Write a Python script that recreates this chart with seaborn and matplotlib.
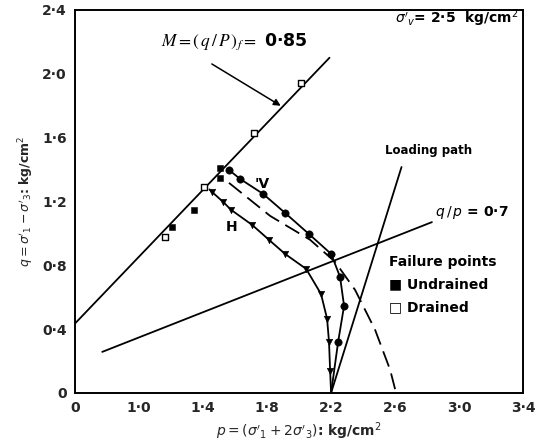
import matplotlib
matplotlib.use("Agg")
import matplotlib.pyplot as plt
import seaborn as sns

sns.set_theme(style="white")
plt.rcParams["font.family"] = ["DejaVu Sans"]
plt.rcParams["mathtext.fontset"] = "dejavusans"

# Stress paths in p-q space (kg/cm2)
v_path_p = [2.20, 2.244, 2.281, 2.256, 2.20, 2.062, 1.912, 1.775, 1.631, 1.562]
v_path_q = [0.00, 0.320, 0.545, 0.727, 0.871, 0.995, 1.128, 1.247, 1.341, 1.397]

h_path_p = [2.20, 2.194, 2.187, 2.175, 2.137, 2.044, 1.912, 1.812, 1.706, 1.575, 1.525, 1.456, 1.44]
h_path_q = [0.00, 0.138, 0.320, 0.464, 0.620, 0.777, 0.871, 0.959, 1.053, 1.147, 1.197, 1.259, 1.275]

# Yield locus (dashed)
locus_p = [1.562, 1.819, 2.069, 2.225, 2.350, 2.475, 2.569, 2.606]
locus_q = [1.316, 1.109, 0.959, 0.821, 0.645, 0.395, 0.144, 0.000]

# Failure points
undrained_p = [1.206, 1.344, 1.506, 1.506]
undrained_q = [1.040, 1.147, 1.410, 1.347]
drained_p = [1.162, 1.406, 1.719, 2.012]
drained_q = [0.977, 1.290, 1.629, 1.942]

# Reference lines
m_line_p = [0.60, 2.19]
m_line_q = [0.435, 2.10]
loading_p = [2.20, 2.64]
loading_q = [0.00, 1.415]
qp_line_p = [0.77, 2.83]
qp_line_q = [0.257, 1.07]

x_ticks = [0.6, 1.0, 1.4, 1.8, 2.2, 2.6, 3.0, 3.4]
x_tick_labels = ["0", "1·0", "1·4", "1·8", "2·2", "2·6", "3·0", "3·4"]
y_ticks = [0.0, 0.4, 0.8, 1.2, 1.6, 2.0, 2.4]
y_tick_labels = ["0", "0·4", "0·8", "1·2", "1·6", "2·0", "2·4"]

fig = plt.figure(figsize=(5.36, 4.48), dpi=100)
ax = fig.add_axes([0.140, 0.123, 0.836, 0.855])

lw = 1.3
for px, qy in [(m_line_p, m_line_q), (loading_p, loading_q), (qp_line_p, qp_line_q)]:
    sns.lineplot(x=px, y=qy, ax=ax, color="black", lw=lw, sort=False, estimator=None)

sns.lineplot(x=v_path_p, y=v_path_q, ax=ax, color="black", lw=lw, sort=False, estimator=None)
sns.lineplot(x=h_path_p, y=h_path_q, ax=ax, color="black", lw=lw, sort=False, estimator=None)
ax.plot(locus_p, locus_q, color="black", lw=lw, dashes=(9, 4))

sns.scatterplot(x=v_path_p[1:], y=v_path_q[1:], ax=ax, color="black", marker="o", s=28, edgecolor="black", zorder=4)
sns.scatterplot(x=h_path_p[1:-1], y=h_path_q[1:-1], ax=ax, color="black", marker="v", s=22, edgecolor="black", zorder=4)
sns.scatterplot(x=undrained_p, y=undrained_q, ax=ax, color="black", marker="s", s=22, edgecolor="black", zorder=4)
sns.scatterplot(x=drained_p, y=drained_q, ax=ax, color="white", marker="s", s=18, edgecolor="black", linewidth=1, zorder=4)

ax.set_xlim(0.6, 3.4)
ax.set_ylim(0.0, 2.4)
ax.set_xticks(x_ticks)
ax.set_xticklabels(x_tick_labels, fontweight="bold", fontsize=10)
ax.set_yticks(y_ticks)
ax.set_yticklabels(y_tick_labels, fontweight="bold", fontsize=10)
ax.tick_params(direction="in", length=4, width=1.2, color="black", pad=6)
for s in ax.spines.values():
    s.set_color("black")
    s.set_linewidth(1.4)

ax.set_xlabel(r"$p=(\sigma'_1+2\sigma'_3)$: kg/cm$^2$", fontweight="bold", fontsize=10, labelpad=4)
ax.set_ylabel(r"$q=\sigma'_1-\sigma'_3$: kg/cm$^2$", fontweight="bold", fontsize=9, labelpad=4)

tk = dict(fontweight="bold", fontsize=10, color="black")
ax.text(3.37, 2.345, r"$\sigma'_v$= 2·5  kg/cm$^2$", ha="right", va="center", **tk)
ax.text(1.14, 2.20, r"$M=(\,q\,/\,P\,)_f=$ 0·85", ha="left", va="center", fontsize=12.5,
        math_fontfamily="stix", color="black", fontweight="bold")
ax.annotate("", xy=(1.90, 1.79), xytext=(1.44, 2.07),
            arrowprops=dict(arrowstyle="-|>", color="black", lw=1.1, mutation_scale=10))
ax.text(2.81, 1.52, "Loading path", ha="center", va="center", fontweight="bold", fontsize=8.5, color="black")
ax.text(2.85, 1.13, r"$q\,/\,p$ = 0·7", ha="left", va="center", **tk)
ax.text(1.72, 1.31, "'V", ha="left", va="center", **tk)
ax.text(1.58, 1.04, "H", ha="center", va="center", **tk)
ax.text(2.56, 0.82, "Failure points", ha="left", va="center", **tk)
ax.text(2.56, 0.68, "■ Undrained", ha="left", va="center", **tk)
ax.text(2.56, 0.54, "□ Drained", ha="left", va="center", **tk)

fig.savefig("out.png", dpi=100)
